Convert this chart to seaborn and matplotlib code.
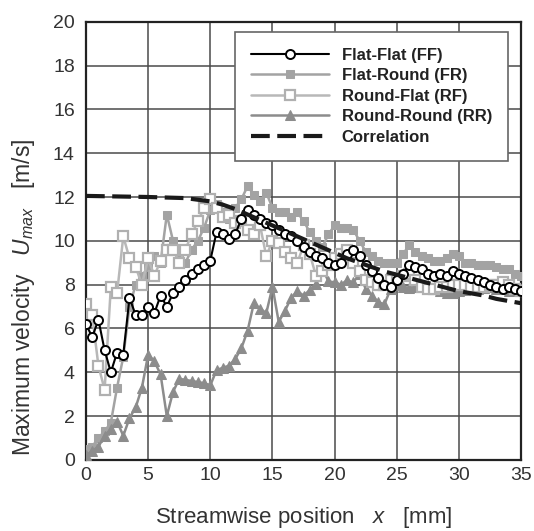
import matplotlib
matplotlib.use("Agg")
import matplotlib.pyplot as plt
import seaborn as sns

# streamwise positions [mm]
x_pos = [0.0, 0.5, 1.0, 1.5, 2.0, 2.5, 3.0, 3.5, 4.0, 4.5, 5.0, 5.5, 6.0, 6.5, 7.0, 7.5,
         8.0, 8.5, 9.0, 9.5, 10.0, 10.5, 11.0, 11.5, 12.0, 12.5, 13.0, 13.5, 14.0, 14.5,
         15.0, 15.5, 16.0, 16.5, 17.0, 17.5, 18.0, 18.5, 19.0, 19.5, 20.0, 20.5, 21.0,
         21.5, 22.0, 22.5, 23.0, 23.5, 24.0, 24.5, 25.0, 25.5, 26.0, 26.5, 27.0, 27.5,
         28.0, 28.5, 29.0, 29.5, 30.0, 30.5, 31.0, 31.5, 32.0, 32.5, 33.0, 33.5, 34.0,
         34.5, 35.0]

ff = [6.2, 5.6, 6.4, 5.0, 4.0, 4.9, 4.8, 7.4, 6.6, 6.6, 7.0, 6.7, 7.5, 7.0, 7.6, 7.9,
      8.2, 8.5, 8.7, 8.9, 9.1, 10.4, 10.3, 10.1, 10.3, 11.0, 11.4, 11.2, 11.0, 10.8,
      10.7, 10.5, 10.3, 10.2, 10.0, 9.7, 9.5, 9.3, 9.2, 9.0, 8.9, 9.0, 9.4, 9.6, 9.3,
      8.9, 8.6, 8.3, 8.0, 7.9, 8.2, 8.5, 8.9, 8.8, 8.7, 8.5, 8.4, 8.5, 8.4, 8.6, 8.5,
      8.4, 8.3, 8.2, 8.1, 8.0, 7.9, 7.8, 7.9, 7.8, 7.7]

fr = [0.5, 0.6, 1.0, 1.3, 1.7, 3.3, 4.7, 7.0, 8.0, 8.4, 8.8, 9.3, 9.0, 11.2, 10.0, 9.4,
      9.0, 9.6, 10.0, 10.6, 11.4, 11.7, 11.3, 11.0, 11.5, 11.9, 12.5, 12.1, 11.8, 12.2,
      11.5, 11.3, 11.3, 11.1, 11.3, 10.9, 10.4, 10.0, 9.7, 10.3, 10.7, 10.6, 10.6, 10.5,
      10.0, 9.5, 9.3, 9.1, 9.0, 9.0, 9.0, 9.4, 9.8, 9.5, 9.3, 9.2, 9.1, 9.1, 9.2, 9.4,
      9.3, 9.0, 9.0, 8.9, 8.9, 8.9, 8.8, 8.7, 8.7, 8.5, 8.4]

rf = [7.1, 6.6, 4.3, 3.2, 7.9, 7.6, 10.2, 9.2, 8.8, 8.0, 9.2, 8.4, 9.1, 9.6, 9.6, 9.0,
      9.6, 10.3, 10.9, 11.5, 11.9, 11.5, 11.1, 11.2, 10.8, 10.9, 10.5, 10.3, 10.7, 9.3,
      10.0, 9.9, 9.5, 9.2, 9.0, 9.8, 9.4, 8.4, 8.6, 8.9, 9.2, 9.4, 9.6, 9.0, 8.6, 8.2,
      8.1, 8.0, 8.0, 8.2, 8.3, 8.4, 8.5, 8.2, 7.9, 7.8, 7.8, 7.9, 7.9, 8.0, 8.0, 8.0,
      7.9, 7.9, 7.9, 8.0, 8.0, 8.1, 8.0, 7.8, 7.7]

rr = [0.2, 0.4, 0.6, 1.1, 1.4, 1.75, 1.1, 1.9, 2.4, 3.3, 4.8, 4.5, 3.9, 2.0, 3.1, 3.7,
      3.65, 3.6, 3.55, 3.5, 3.4, 4.1, 4.2, 4.3, 4.6, 5.1, 5.9, 7.15, 6.9, 6.7, 7.9, 6.3,
      6.8, 7.4, 7.7, 7.5, 7.75, 8.05, 8.75, 8.15, 8.1, 8.0, 8.2, 8.1, 8.5, 7.8, 7.5,
      7.2, 7.1, 7.8, 8.0, 7.9, 7.85, 7.9, 8.0, 8.0, 7.8, 7.7, 7.6, 7.6, 7.7, 7.75, 7.8,
      7.8, 7.85, 7.9, 7.8, 7.8, 7.7, 7.75, 7.8]

corr_x = [0, 5, 8, 10, 11, 12, 13, 14, 15, 16, 17, 18, 19, 20, 21, 22, 23, 24, 25, 26,
          27, 28, 29, 30, 31, 32, 33, 34, 35]
corr_y = [12.05, 12.0, 11.95, 11.8, 11.65, 11.45, 11.2, 10.95, 10.7, 10.45, 10.2, 9.95,
          9.7, 9.45, 9.2, 9.0, 8.8, 8.6, 8.45, 8.3, 8.15, 8.0, 7.85, 7.7, 7.6, 7.5, 7.35,
          7.25, 7.15]

sns.set_style("white")
plt.rcParams['font.family'] = ['Liberation Sans', 'DejaVu Sans']
plt.rcParams['mathtext.fontset'] = 'custom'
plt.rcParams['mathtext.it'] = 'Liberation Sans:italic'
plt.rcParams['mathtext.rm'] = 'Liberation Sans'

fig = plt.figure(figsize=(5.34, 5.31), dpi=100)
ax = fig.add_axes([0.161, 0.134, 0.815, 0.825])

sns.lineplot(x=x_pos, y=ff, ax=ax, color='black', lw=1.5, marker='o', markersize=6.5,
             markerfacecolor='white', markeredgecolor='black', markeredgewidth=1.4,
             label='Flat-Flat (FF)', zorder=5)
sns.lineplot(x=x_pos, y=fr, ax=ax, color='#a3a3a3', lw=1.8, marker='s', markersize=6,
             markerfacecolor='#a3a3a3', markeredgecolor='#a3a3a3',
             label='Flat-Round (FR)', zorder=3)
sns.lineplot(x=x_pos, y=rf, ax=ax, color='#b8b8b8', lw=1.8, marker='s', markersize=7,
             markerfacecolor='white', markeredgecolor='#b0b0b0', markeredgewidth=1.6,
             label='Round-Flat (RF)', zorder=4)
sns.lineplot(x=x_pos, y=rr, ax=ax, color='#8c8c8c', lw=1.8, marker='^', markersize=6.5,
             markerfacecolor='#8c8c8c', markeredgecolor='#8c8c8c',
             label='Round-Round (RR)', zorder=3)
sns.lineplot(x=corr_x, y=corr_y, ax=ax, color='#1a1a1a', lw=3.0, dashes=False,
             label='Correlation', zorder=6)
ax.lines[-1].set_dashes((4.5, 1.8))

ax.set_xlim(0, 35)
ax.set_ylim(0, 20)
ax.set_xticks(range(0, 36, 5))
ax.set_yticks(range(0, 21, 2))
ax.grid(True, color='#4a4a4a', lw=1.1)
ax.set_axisbelow(True)
for s in ax.spines.values():
    s.set_color('#222222')
    s.set_linewidth(1.6)
ax.tick_params(axis='both', length=0, labelsize=14, colors='#333333')
ax.tick_params(axis='y', pad=8)
ax.tick_params(axis='x', pad=5)

ax.set_xlabel('Streamwise position   $x$   [mm]', fontsize=16, color='#333333', labelpad=15)
ax.set_ylabel('Maximum velocity   $U_{max}$   [m/s]', fontsize=16.5, color='#333333')
ax.yaxis.set_label_coords(-0.113, 0.37)

leg = ax.legend(loc='upper left', bbox_to_anchor=(0.3425, 0.977), borderaxespad=0,
                handlelength=4.7, handletextpad=0.75, labelspacing=0.33, borderpad=0.95,
                fancybox=False, framealpha=1, edgecolor='#666666', prop={'weight': 'bold', 'size': 12})
leg.get_frame().set_linewidth(1.2)
for t in leg.get_texts():
    t.set_color('#222222')

fig.savefig('out.png', dpi=100)
